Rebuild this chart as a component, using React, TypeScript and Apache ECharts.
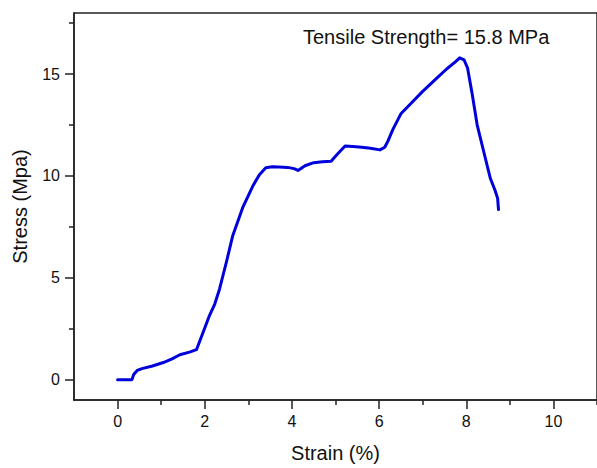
import React, { useEffect, useRef } from "react";
import * as echarts from "echarts";

const strain = [
  0, 0.33, 0.37, 0.45, 0.56, 0.8, 1.05, 1.25, 1.43, 1.65, 1.81, 1.95, 2.1, 2.23,
  2.34, 2.5, 2.64, 2.87, 3.1, 3.25, 3.4, 3.55, 3.7, 3.9, 4.05, 4.14, 4.3, 4.5,
  4.7, 4.9, 5.03, 5.22, 5.4, 5.6, 5.8, 6.02, 6.13, 6.2, 6.32, 6.5, 6.73, 7.0,
  7.3, 7.55, 7.75, 7.85, 7.95, 8.03, 8.14, 8.25, 8.4, 8.55, 8.66, 8.72, 8.74,
];
const stress = [
  0, 0, 0.25, 0.45, 0.54, 0.67, 0.84, 1.02, 1.22, 1.35, 1.47, 2.25, 3.1, 3.71,
  4.45, 5.8, 7.05, 8.44, 9.49, 10.05, 10.4, 10.45, 10.44, 10.42, 10.36, 10.27,
  10.5, 10.65, 10.7, 10.72, 11.04, 11.47, 11.45, 11.41, 11.36, 11.28, 11.41,
  11.7, 12.3, 13.05, 13.56, 14.15, 14.75, 15.25, 15.6, 15.8, 15.7, 15.3, 13.97,
  12.51, 11.2, 9.9, 9.3, 8.9, 8.35,
];
const xMajorTicks = [0, 2, 4, 6, 8, 10];
const xMinorTicks = [1, 3, 5, 7, 9, 11];
const yMajorTicks = [0, 5, 10, 15];
const yMinorTicks = [2.5, 7.5, 12.5, 17.5];
const xTitle = "Strain (%)";
const yTitle = "Stress (Mpa)";
const annotation = "Tensile Strength= 15.8 MPa";

export default function App() {
  const ref = useRef<HTMLDivElement>(null);
  useEffect(() => {
    const chart = echarts.init(ref.current!, null, { renderer: "svg" });
    const font = "Arial, 'Liberation Sans', sans-serif";
    const ink = "#222";
    const tickStyle = { color: ink, width: 1.5 };
    const data = strain.map((x, i) => [x, stress[i]]);
    chart.setOption({
      animation: false,
      backgroundColor: "#fff",
      grid: {
        left: 74,
        top: 13,
        width: 527,
        height: 389,
        show: true,
        borderColor: ink,
        borderWidth: 1.5,
        backgroundColor: "transparent",
      },
      xAxis: [
        {
          type: "value",
          min: -1,
          max: 11,
          position: "bottom",
          name: xTitle,
          nameLocation: "middle",
          nameGap: 43,
          nameTextStyle: { fontSize: 20, color: "#111", fontFamily: font },
          axisLine: { show: true, onZero: false, lineStyle: tickStyle },
          axisTick: { show: true, customValues: xMajorTicks, length: 9, lineStyle: tickStyle },
          axisLabel: { customValues: xMajorTicks, fontSize: 16, color: "#111", margin: 13, fontFamily: font },
          splitLine: { show: false },
        },
        {
          type: "value",
          min: -1,
          max: 11,
          position: "bottom",
          axisLine: { show: false, onZero: false },
          axisTick: { show: true, customValues: xMinorTicks, length: 5, lineStyle: tickStyle },
          axisLabel: { show: false },
          splitLine: { show: false },
        },
      ],
      yAxis: [
        {
          type: "value",
          min: -1,
          max: 18,
          position: "left",
          name: yTitle,
          nameLocation: "middle",
          nameGap: 44,
          nameTextStyle: { fontSize: 20, color: "#111", fontFamily: font },
          axisLine: { show: true, onZero: false, lineStyle: tickStyle },
          axisTick: { show: true, customValues: yMajorTicks, length: 9, lineStyle: tickStyle },
          axisLabel: { customValues: yMajorTicks, fontSize: 16, color: "#111", margin: 14, fontFamily: font },
          splitLine: { show: false },
        },
        {
          type: "value",
          min: -1,
          max: 18,
          position: "left",
          axisLine: { show: false, onZero: false },
          axisTick: { show: true, customValues: yMinorTicks, length: 5, lineStyle: tickStyle },
          axisLabel: { show: false },
          splitLine: { show: false },
        },
      ],
      series: [
        {
          type: "line",
          xAxisIndex: 0,
          yAxisIndex: 0,
          data,
          showSymbol: false,
          symbol: "none",
          lineStyle: { color: "#0000dc", width: 3, join: "round", cap: "round" },
          z: 3,
        },
      ],
      graphic: [
        {
          type: "text",
          left: 303,
          top: 27,
          style: { text: annotation, fontSize: 20, fill: "#111", fontFamily: font },
        },
      ],
    });
    return () => chart.dispose();
  }, []);
  return (
    <div
      ref={ref}
      style={{ position: "absolute", left: 0, top: 0, width: 597, height: 468 }}
    />
  );
}
